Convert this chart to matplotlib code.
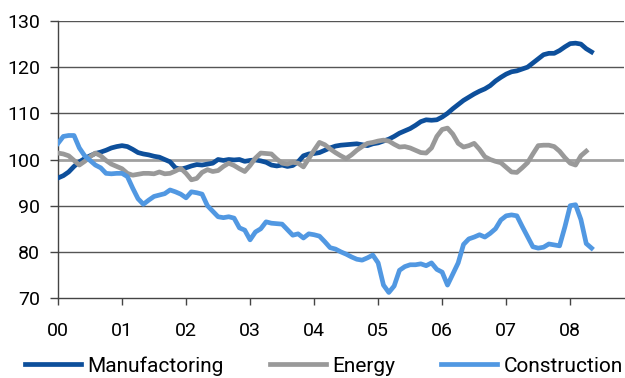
import numpy as np
import matplotlib
matplotlib.use('Agg')
import matplotlib.pyplot as plt

# monthly index values, Jan 2000 onwards
manufacturing = [96.0, 96.5, 97.3, 98.5, 99.5, 100.2, 100.8, 101.3, 101.6, 102.0, 102.5, 102.8,
                 103.0, 102.8, 102.2, 101.5, 101.2, 101.0, 100.7, 100.5, 100.0, 99.5, 98.2, 97.9,
                 98.2, 98.6, 98.9, 98.8, 99.0, 99.2, 100.0, 99.8, 100.0, 99.9, 100.0, 99.6,
                 99.8, 99.9, 99.7, 99.4, 98.8, 98.6, 98.8, 98.5, 98.7, 99.5, 100.8, 101.2,
                 101.3, 101.5, 102.0, 102.5, 102.9, 103.1, 103.2, 103.3, 103.4, 103.2, 103.0, 103.4,
                 103.6, 104.0, 104.4, 105.0, 105.7, 106.2, 106.7, 107.4, 108.2, 108.6, 108.5, 108.6,
                 109.2, 110.0, 111.0, 111.9, 112.8, 113.5, 114.2, 114.8, 115.3, 116.0, 117.0, 117.8,
                 118.5, 119.0, 119.2, 119.6, 120.0, 120.9, 121.8, 122.7, 123.0, 123.0, 123.6, 124.4,
                 125.1, 125.2, 125.0, 124.0, 123.3]

energy = [101.4, 101.2, 100.8, 99.8, 98.8, 99.6, 100.6, 101.4, 100.8, 99.8, 99.0, 98.5,
          98.0, 97.0, 96.6, 96.8, 97.0, 97.0, 96.9, 97.3, 96.9, 97.0, 97.5, 98.1,
          97.0, 95.6, 95.9, 97.2, 97.8, 97.4, 97.6, 98.5, 99.2, 98.7, 98.0, 97.4,
          98.7, 100.3, 101.4, 101.3, 101.2, 100.1, 99.2, 99.0, 99.4, 99.2, 98.4, 100.2,
          102.0, 103.7, 103.2, 102.3, 101.5, 100.8, 100.2, 101.0, 102.0, 102.8, 103.5, 103.7,
          104.0, 104.2, 104.0, 103.3, 102.7, 102.8, 102.5, 102.0, 101.5, 101.4, 102.5, 105.0,
          106.5, 106.8, 105.5, 103.5, 102.7, 103.0, 103.5, 102.2, 100.6, 100.0, 99.6, 99.3,
          98.3, 97.3, 97.2, 98.2, 99.3, 101.2, 103.0, 103.1, 103.1, 102.8, 101.8, 100.4,
          99.2, 98.8, 100.8, 101.8]

construction = [103.5, 105.0, 105.2, 105.2, 102.5, 100.8, 99.8, 98.8, 98.2, 97.0, 96.9, 97.0,
                97.0, 96.3, 93.8, 91.5, 90.3, 91.2, 92.0, 92.3, 92.6, 93.4, 93.0, 92.5,
                91.7, 93.0, 92.8, 92.5, 90.0, 88.8, 87.6, 87.4, 87.6, 87.3, 85.2, 84.7,
                82.6, 84.3, 85.0, 86.5, 86.2, 86.1, 86.0, 84.8, 83.6, 83.9, 83.0, 83.9,
                83.7, 83.4, 82.2, 80.9, 80.6, 80.0, 79.5, 78.9, 78.4, 78.2, 78.7, 79.3,
                77.6, 72.8, 71.2, 72.6, 76.0, 76.8, 77.2, 77.2, 77.4, 77.0, 77.6, 76.2,
                75.6, 72.8, 75.2, 77.6, 81.6, 82.8, 83.2, 83.7, 83.2, 84.0, 85.0, 86.9,
                87.8, 88.0, 87.8, 85.5, 83.3, 81.1, 80.8, 81.0, 81.7, 81.5, 81.3, 85.4,
                90.0, 90.2, 87.0, 81.8, 80.8]

year_labels = ['00', '01', '02', '03', '04', '05', '06', '07', '08']

plt.rcParams['font.family'] = ['Roboto', 'DejaVu Sans']

fig = plt.figure(figsize=(6.25, 3.78), dpi=100)
ax = fig.add_axes([58 / 625, 1 - 298 / 378, (624 - 58) / 625, (298 - 21) / 378])

t_m = np.arange(len(manufacturing)) / 12
t_e = np.arange(len(energy)) / 12
t_c = np.arange(len(construction)) / 12

for yv in [80, 90, 110, 120, 130]:
    ax.axhline(yv, color='#555555', lw=1.0, zorder=1)
ax.axhline(100, color='#a0a0a0', lw=2.0, zorder=1)

ax.plot(t_m, manufacturing, color='#0d4f9b', lw=3.4, label='Manufactoring', zorder=3)
ax.plot(t_e, energy, color='#999999', lw=3.4, label='Energy', zorder=3)
ax.plot(t_c, construction, color='#5198e2', lw=3.4, label='Construction', zorder=3)

ax.set_xlim(0, 8.84)
ax.set_ylim(70, 130)
ax.set_yticks(range(70, 131, 10))
ax.set_xticks(range(len(year_labels)))
ax.set_xticklabels(year_labels)

for s in ['top', 'right']:
    ax.spines[s].set_visible(False)
for s in ['left', 'bottom']:
    ax.spines[s].set_color('#444444')
    ax.spines[s].set_linewidth(1.0)

ax.tick_params(axis='y', length=6, width=1, color='#444444', pad=7, labelsize=14)
ax.tick_params(axis='x', length=5, width=1, color='#444444', pad=12, labelsize=14)

fig.legend(loc='center left', bbox_to_anchor=(25 / 625, 0.032), ncol=3, frameon=False,
           fontsize=15, handlelength=2.7, handletextpad=0.3, columnspacing=2.2,
           borderaxespad=0, borderpad=0)

fig.savefig('out.png', dpi=100)
